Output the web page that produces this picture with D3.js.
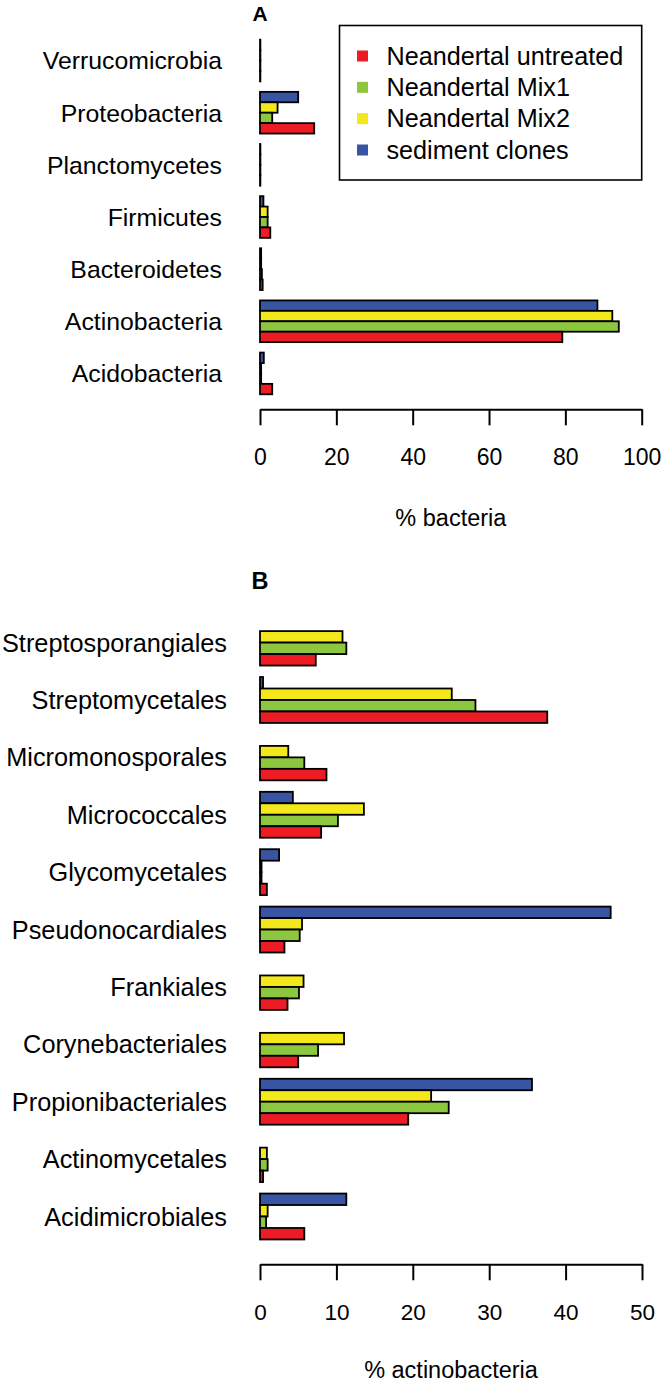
<!DOCTYPE html>
<html>
<head>
<meta charset="utf-8">
<script src="https://cdn.jsdelivr.net/npm/d3@7"></script>
<style>
  html, body { margin: 0; padding: 0; background: #fff; }
  svg { display: block; }
  text { font-family: "Liberation Sans", Arial, Helvetica, sans-serif; fill: #000; }
</style>
</head>
<body>
<svg id="chart" width="664" height="1383"></svg>
<script>
// ---------------- DATA ----------------
// Series (legend order)
const seriesNames = ["Neandertal untreated", "Neandertal Mix1", "Neandertal Mix2", "sediment clones"];
const seriesColors = ["#ED1C24", "#8DC63F", "#F2E81B", "#3A54A4"];

// Panel A: phyla (top to bottom)
const phyla = ["Verrucomicrobia", "Proteobacteria", "Planctomycetes", "Firmicutes",
               "Bacteroidetes", "Actinobacteria", "Acidobacteria"];
const phylaUntreated = [0.1, 14.2, 0.1, 2.7, 0.7, 79.2, 3.2];
const phylaMix1      = [0.1,  3.2, 0.1, 2.0, 0.5, 94.0, 0.3];
const phylaMix2      = [0.1,  4.6, 0.1, 2.0, 0.3, 92.3, 0.3];
const phylaSediment  = [0.1, 10.0, 0.1, 0.9, 0.3, 88.4, 1.0];
const ticksA = [0, 20, 40, 60, 80, 100];

// Panel B: actinobacterial orders (top to bottom)
const orders = ["Streptosporangiales", "Streptomycetales", "Micromonosporales", "Micrococcales",
                "Glycomycetales", "Pseudonocardiales", "Frankiales", "Corynebacteriales",
                "Propionibacteriales", "Actinomycetales", "Acidimicrobiales"];
const ordersUntreated = [7.3, 37.6, 8.7,  8.0, 0.9,  3.2, 3.6,  5.0, 19.4, 0.4,  5.8];
const ordersMix1      = [11.3, 28.2, 5.8, 10.2, 0.2,  5.2, 5.1,  7.6, 24.7, 1.0,  0.8];
const ordersMix2      = [10.8, 25.1, 3.7, 13.6, 0.2,  5.5, 5.7, 11.0, 22.4, 0.9,  1.0];
const ordersSediment  = [0.0,  0.4, 0.0,  4.3, 2.5, 45.9, 0.0,  0.0, 35.6, 0.0, 11.3];
const ticksB = [0, 10, 20, 30, 40, 50];

// ---------------- DRAWING ----------------
const svg = d3.select("#chart");
const FONT = '"Liberation Sans", Arial, Helvetica, sans-serif';
// order of bars inside a group, top to bottom: sediment, Mix2, Mix1, untreated
const innerOrder = [3, 2, 1, 0];

function panel(cfg) {
  const g = svg.append("g");
  const values = [cfg.untreated, cfg.mix1, cfg.mix2, cfg.sediment];

  const x = d3.scaleLinear().domain(cfg.xDomain).range([cfg.x0, cfg.x1]);
  const y = d3.scaleBand().domain(cfg.cats).range(cfg.yRange)
              .paddingInner(0.2).paddingOuter(0.1);
  const yi = d3.scaleBand().domain(innerOrder).range([0, y.bandwidth()]).padding(0);

  const groups = g.selectAll("g.grp").data(cfg.cats).join("g")
      .attr("class", "grp")
      .attr("transform", d => `translate(0,${y(d)})`);

  groups.selectAll("rect").data((d, i) => innerOrder.map(s => ({ s, v: values[s][i] })))
    .join("rect")
      .attr("x", x(0))
      .attr("y", d => yi(d.s))
      .attr("width", d => x(d.v) - x(0))
      .attr("height", yi.bandwidth())
      .attr("fill", d => seriesColors[d.s])
      .attr("stroke", "#000")
      .attr("stroke-width", 1.8);

  // category labels
  g.selectAll("text.cat").data(cfg.cats).join("text")
      .attr("class", "cat")
      .attr("x", cfg.labelX)
      .attr("y", d => y(d) + y.bandwidth() / 2 + cfg.labelSize * 0.36)
      .attr("text-anchor", "end")
      .style("font-size", cfg.labelSize + "px")
      .text(d => d);

  // x axis
  const axis = d3.axisBottom(x).tickValues(cfg.ticks).tickSize(16).tickSizeOuter(0);
  const ag = g.append("g").attr("transform", `translate(0,${cfg.axisY})`).call(axis);
  ag.select(".domain").attr("stroke", "#000").attr("stroke-width", 2);
  ag.selectAll(".tick line").attr("stroke", "#000").attr("stroke-width", 2);
  ag.selectAll(".tick text")
      .attr("y", cfg.tickTextOffset).attr("dy", null)
      .style("font-family", FONT)
      .style("font-size", cfg.tickSize + "px")
      .attr("fill", "#000");

  // axis title
  g.append("text")
      .attr("x", (cfg.x0 + cfg.x1) / 2)
      .attr("y", cfg.titleY)
      .attr("text-anchor", "middle")
      .style("font-size", cfg.titleSize + "px")
      .text(cfg.title);

  // panel letter
  g.append("text")
      .attr("x", cfg.x0)
      .attr("y", cfg.letterY)
      .attr("text-anchor", "middle")
      .style("font-size", cfg.letterSize + "px")
      .style("font-weight", "bold")
      .text(cfg.letter);

  return { x, y };
}

panel({
  cats: phyla, untreated: phylaUntreated, mix1: phylaMix1, mix2: phylaMix2, sediment: phylaSediment,
  xDomain: [0, 100], x0: 260, x1: 641.7, ticks: ticksA,
  yRange: [34.5, 399.5], axisY: 409.3, tickTextOffset: 56, tickSize: 23,
  labelX: 222, labelSize: 24.8,
  title: "% bacteria", titleY: 526, titleSize: 23.5,
  letter: "A", letterY: 20.5, letterSize: 21
});

panel({
  cats: orders, untreated: ordersUntreated, mix1: ordersMix1, mix2: ordersMix2, sediment: ordersSediment,
  xDomain: [0, 50], x0: 260, x1: 642, ticks: ticksB,
  yRange: [613.9, 1245.2], axisY: 1264.3, tickTextOffset: 56, tickSize: 22.5,
  labelX: 227, labelSize: 25.3,
  title: "% actinobacteria", titleY: 1378, titleSize: 23.5,
  letter: "B", letterY: 589, letterSize: 23.5
});

// legend (panel A, top right)
const legend = svg.append("g");
legend.append("rect")
    .attr("x", 339.5).attr("y", 25.5)
    .attr("width", 641.7 - 339.5).attr("height", 180 - 25.5)
    .attr("fill", "#fff").attr("stroke", "#000").attr("stroke-width", 1.6);
const ly = d3.scalePoint().domain(d3.range(seriesNames.length)).range([56, 150]);
const items = legend.selectAll("g.item").data(seriesNames).join("g").attr("class", "item")
    .attr("transform", (d, i) => `translate(0,${ly(i)})`);
items.append("rect")
    .attr("x", 357).attr("y", -5.5).attr("width", 11).attr("height", 11)
    .attr("fill", (d, i) => seriesColors[i]);
items.append("text")
    .attr("x", 386.5).attr("y", 8.8)
    .style("font-size", "25.2px")
    .text(d => d);
</script>
</body>
</html>
